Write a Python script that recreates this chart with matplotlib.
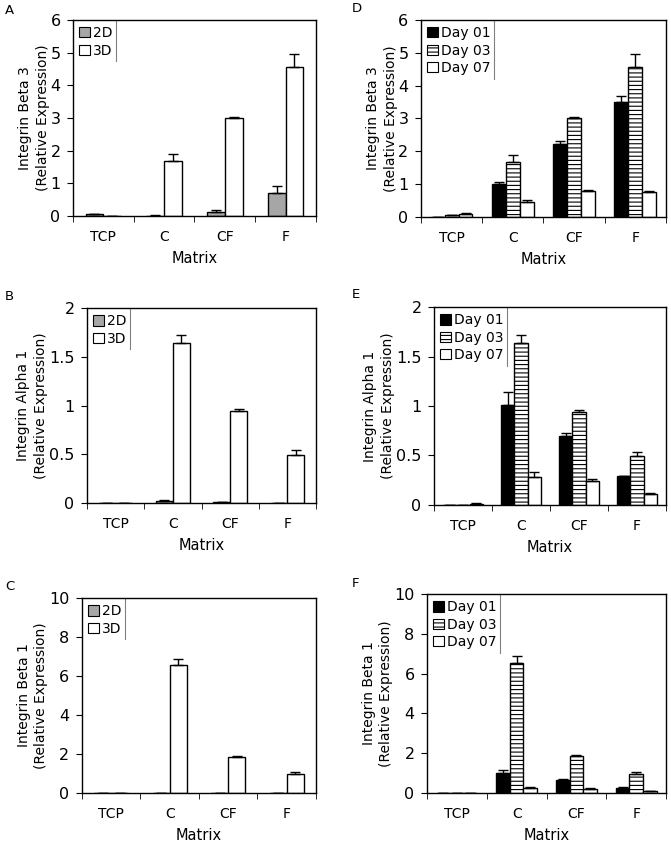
import numpy as np
import matplotlib
matplotlib.use("Agg")
import matplotlib.pyplot as plt
from matplotlib.lines import Line2D

plt.rcParams['font.family'] = ['DejaVu Sans']
plt.rcParams['hatch.linewidth'] = 0.8

matrices = ["TCP", "C", "CF", "F"]

# 2D vs 3D culture (left column)
dim_labels = ["2D", "3D"]
beta3_2d = [0.05, 0.01, 0.12, 0.70]
beta3_2d_err = [0.02, 0.005, 0.07, 0.22]
beta3_3d = [0.0, 1.68, 3.00, 4.57]
beta3_3d_err = [0.0, 0.22, 0.04, 0.40]

alpha1_2d = [0.003, 0.025, 0.008, 0.003]
alpha1_2d_err = [0.0, 0.01, 0.002, 0.0]
alpha1_3d = [0.0, 1.64, 0.94, 0.49]
alpha1_3d_err = [0.0, 0.08, 0.02, 0.05]

beta1_2d = [0.005, 0.01, 0.01, 0.005]
beta1_2d_err = [0.0, 0.0, 0.0, 0.0]
beta1_3d = [0.0, 6.55, 1.87, 0.97]
beta1_3d_err = [0.0, 0.32, 0.05, 0.10]

# time course (right column)
day_labels = ["Day 01", "Day 03", "Day 07"]
beta3_d1 = [0.01, 1.00, 2.22, 3.50]
beta3_d1_err = [0.0, 0.06, 0.10, 0.17]
beta3_d3 = [0.05, 1.68, 3.00, 4.57]
beta3_d3_err = [0.02, 0.22, 0.04, 0.40]
beta3_d7 = [0.10, 0.45, 0.78, 0.75]
beta3_d7_err = [0.03, 0.08, 0.05, 0.05]

alpha1_d1 = [0.002, 1.01, 0.70, 0.29]
alpha1_d1_err = [0.0, 0.13, 0.03, 0.005]
alpha1_d3 = [0.003, 1.64, 0.94, 0.49]
alpha1_d3_err = [0.0, 0.08, 0.02, 0.05]
alpha1_d7 = [0.01, 0.28, 0.24, 0.11]
alpha1_d7_err = [0.005, 0.05, 0.02, 0.01]

beta1_d1 = [0.005, 1.00, 0.68, 0.25]
beta1_d1_err = [0.0, 0.15, 0.03, 0.03]
beta1_d3 = [0.01, 6.55, 1.87, 0.97]
beta1_d3_err = [0.0, 0.32, 0.05, 0.10]
beta1_d7 = [0.01, 0.25, 0.20, 0.09]
beta1_d7_err = [0.0, 0.07, 0.03, 0.02]


def draw_panel(fig, rect, letter, letter_xy, ylabel, ymax, ystep, series, errs, labels, styles):
    ax = fig.add_axes(rect)
    n = len(series)
    w = 1.0 / (n + 1.4)
    x = np.arange(len(matrices))
    for i, (vals, err, lab, st) in enumerate(zip(series, errs, labels, styles)):
        pos = x + (i - (n - 1) / 2) * w
        ax.bar(pos, vals, w, label=lab, color=st["color"], hatch=st.get("hatch"),
               edgecolor="black", linewidth=1.0, zorder=2)
        ax.errorbar(pos, vals, yerr=[np.zeros(len(err)), err], fmt="none",
                    ecolor="black", elinewidth=1.0, capsize=3.5, capthick=1.0, zorder=3)
    ax.set_xlim(-0.5, len(matrices) - 0.5)
    ax.set_ylim(0, ymax)
    yt = np.arange(0, ymax + ystep / 2, ystep)
    ax.set_yticks(yt)
    ax.set_yticklabels(["%g" % v for v in yt], fontsize=11.5)
    ax.set_xticks(x)
    ax.set_xticklabels(matrices, fontsize=10)
    ax.set_xticks(np.arange(-0.5, len(matrices)), minor=True)
    ax.tick_params(axis="x", which="major", length=0, pad=10)
    ax.tick_params(axis="x", which="minor", length=4, direction="out")
    ax.tick_params(axis="y", length=4, direction="out", pad=5)
    for s in ax.spines.values():
        s.set_linewidth(1.0)
    ax.set_xlabel("Matrix", fontsize=10.5, labelpad=5)
    ax.set_ylabel(ylabel, fontsize=10, labelpad=0.5, linespacing=1.35)
    leg = ax.legend(loc="upper left", frameon=False, fontsize=10, handlelength=0.75,
                    handleheight=0.75, handletextpad=0.25, borderaxespad=0.2,
                    labelspacing=0.25, borderpad=0.25)
    for h in leg.legend_handles:
        h.set_linewidth(0.8)
    fig.canvas.draw()
    bb = leg.get_window_extent().transformed(ax.transAxes.inverted())
    ax.add_line(Line2D([bb.x1, bb.x1], [bb.y0, 1.0], transform=ax.transAxes,
                       color="#808080", linewidth=0.8, clip_on=False))
    fig.text(letter_xy[0] / 671, 1 - letter_xy[1] / 846, letter, fontsize=9.5,
             va="center", ha="left")
    return ax


fig = plt.figure(figsize=(6.71, 8.46), dpi=100)

dim_styles = [{"color": "#a6a6a6"}, {"color": "white"}]
day_styles = [{"color": "black"}, {"color": "white", "hatch": "----"}, {"color": "white"}]

draw_panel(fig, [0.1088, 0.7447, 0.362, 0.2317], "A", (5, 10),
           "Integrin Beta 3\n(Relative Expression)", 6, 1,
           [beta3_2d, beta3_3d], [beta3_2d_err, beta3_3d_err], dim_labels, dim_styles)
draw_panel(fig, [0.1297, 0.4054, 0.3413, 0.2305], "B", (5, 297),
           "Integrin Alpha 1\n(Relative Expression)", 2, 0.5,
           [alpha1_2d, alpha1_3d], [alpha1_2d_err, alpha1_3d_err], dim_labels, dim_styles)
draw_panel(fig, [0.1222, 0.0626, 0.3487, 0.2305], "C", (5, 587),
           "Integrin Beta 1\n(Relative Expression)", 10, 2,
           [beta1_2d, beta1_3d], [beta1_2d_err, beta1_3d_err], dim_labels, dim_styles)

draw_panel(fig, [0.6274, 0.7435, 0.365, 0.2329], "D", (352, 9),
           "Integrin Beta 3\n(Relative Expression)", 6, 1,
           [beta3_d1, beta3_d3, beta3_d7], [beta3_d1_err, beta3_d3_err, beta3_d7_err],
           day_labels, day_styles)
draw_panel(fig, [0.6468, 0.4031, 0.3458, 0.234], "E", (352, 294),
           "Integrin Alpha 1\n(Relative Expression)", 2, 0.5,
           [alpha1_d1, alpha1_d3, alpha1_d7], [alpha1_d1_err, alpha1_d3_err, alpha1_d7_err],
           day_labels, day_styles)
draw_panel(fig, [0.6364, 0.0626, 0.3562, 0.2352], "F", (352, 583),
           "Integrin Beta 1\n(Relative Expression)", 10, 2,
           [beta1_d1, beta1_d3, beta1_d7], [beta1_d1_err, beta1_d3_err, beta1_d7_err],
           day_labels, day_styles)

fig.savefig("out.png", dpi=100)
